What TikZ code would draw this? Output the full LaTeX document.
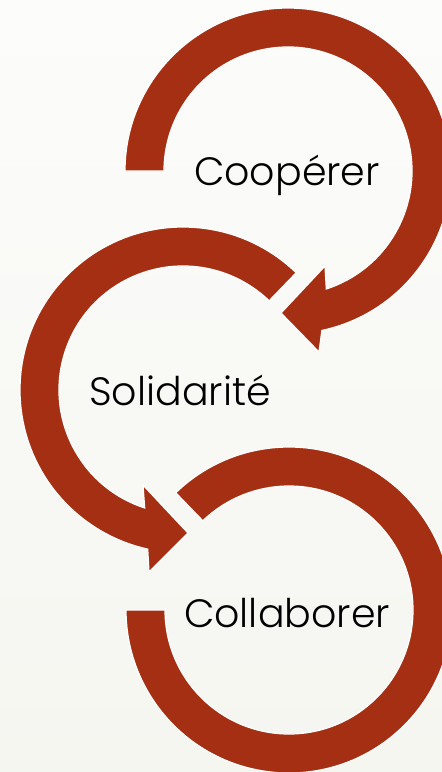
\documentclass[tikz,border=0pt]{standalone}
\usepackage{fontspec}
\setmainfont{Poppins}[UprightFont=* Light]
\definecolor{rust}{HTML}{A52F13}
\definecolor{bgtop}{HTML}{FCFCFB}
\definecolor{bgbot}{HTML}{F5F6F0}
\tikzset{
	x=0.02cm, y=0.02cm,
	ring/.style={fill=rust, draw=white, line width=0.7pt, line join=miter},
	word/.style={anchor=base, font=\fontsize{22.5}{27}\selectfont, text=black}
}

\begin{document}
\begin{tikzpicture}
	\clip (0,0) rectangle (442,-772);
	\shade[top color=bgtop, bottom color=bgbot] (0,0) rectangle (442,-772);
	\coordinate (c1) at (288,-171);
	\coordinate (c2) at (183,-390);
	\coordinate (c3) at (289,-610);

	% top ring, head turned to the left
	\path[ring] (c1) ++(180:163) arc[start angle=180, end angle=-78, radius=163]
		-- (319,-352) -- (281,-313) -- (325,-266)
		-- ([shift={(-72:124)}]c1) arc[start angle=-72, end angle=180, radius=124] -- cycle;

	% middle ring, head turned to the right
	\path[ring] (c2) ++(46:163) arc[start angle=46, end angle=257.5, radius=163]
		-- (149,-572) -- (188,-533) -- (143,-485)
		-- ([shift={(252:124)}]c2) arc[start angle=252, end angle=46, radius=124] -- cycle;

	% bottom ring, no head
	\path[ring] (c3) ++(134:163) arc[start angle=134, end angle=-180, radius=163]
		-- ([shift={(180:124)}]c3) arc[start angle=-180, end angle=134, radius=124] -- cycle;

	\node[word] (coop) at (287,-185) {Coopérer};
	\node[word] (soli) at (180,-405) {Solidarité};
	\node[word] (colla) at (287,-627) {Collaborer};
\end{tikzpicture}
\end{document}
